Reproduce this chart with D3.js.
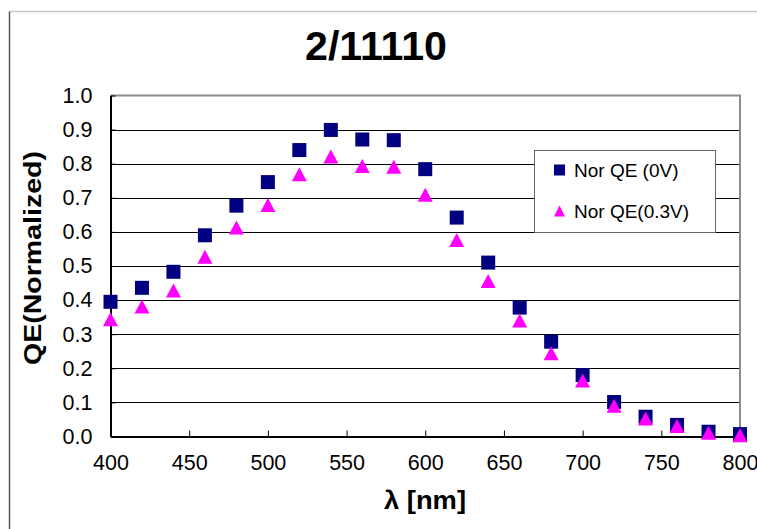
<!DOCTYPE html>
<html>
<head>
<meta charset="utf-8">
<script src="https://cdn.jsdelivr.net/npm/d3@7"></script>
<style>
  body { margin: 0; background: #fff; }
  svg { display: block; font-family: "Liberation Sans", Arial, sans-serif; }
</style>
</head>
<body>
<svg id="chart" width="757" height="529"></svg>
<script>
// data
const wavelengths = [400, 420, 440, 460, 480, 500, 520, 540, 560, 580, 600,
  620, 640, 660, 680, 700, 720, 740, 760, 780, 800];
const qe0V = [0.395, 0.436, 0.483, 0.590, 0.677, 0.746, 0.840, 0.899, 0.871, 0.869, 0.784,
  0.642, 0.510, 0.378, 0.278, 0.180, 0.101, 0.058, 0.034, 0.014, 0.007];
const qe03V = [0.344, 0.381, 0.428, 0.527, 0.613, 0.679, 0.769, 0.821, 0.793, 0.791, 0.709,
  0.576, 0.456, 0.340, 0.244, 0.164, 0.090, 0.053, 0.031, 0.011, 0.004];
const xTicks = [400, 450, 500, 550, 600, 650, 700, 750, 800];
const yTicks = [0, 0.1, 0.2, 0.3, 0.4, 0.5, 0.6, 0.7, 0.8, 0.9, 1.0];
const seriesNames = ['Nor QE (0V)', 'Nor QE(0.3V)'];

const svg = d3.select('#chart');
const plotL = 110.5, plotR = 740, plotT = 95.5, plotB = 436.5;

const x = d3.scaleLinear().domain([400, 800]).range([plotL, plotR]);
const y = d3.scaleLinear().domain([0, 1]).range([plotB, plotT]);

// outer frame (only top + left visible)
svg.append('line').attr('x1', 9.5).attr('x2', 757).attr('y1', 11.5).attr('y2', 11.5)
  .attr('stroke', '#c8c8c8').attr('stroke-width', 1.5);
svg.append('line').attr('x1', 9.5).attr('x2', 9.5).attr('y1', 11.5).attr('y2', 529)
  .attr('stroke', '#555').attr('stroke-width', 1.5);

// title
svg.append('text').attr('x', 376).attr('y', 59.5).attr('text-anchor', 'middle')
  .attr('font-size', 41).attr('font-weight', 'bold')
  .attr('textLength', 142).attr('lengthAdjust', 'spacingAndGlyphs')
  .text('2/11110');

// gridlines
svg.append('g').selectAll('line').data(yTicks.slice(1, -1)).enter().append('line')
  .attr('x1', plotL).attr('x2', plotR)
  .attr('y1', d => Math.round(y(d)) + 0.5).attr('y2', d => Math.round(y(d)) + 0.5)
  .attr('stroke', '#000').attr('stroke-width', 1);

// plot border top/right in grey
svg.append('path')
  .attr('d', `M${plotL},${plotT}H${plotR}V${plotB}`)
  .attr('fill', 'none').attr('stroke', '#8c8c8c').attr('stroke-width', 2);

// axes
const yAxis = d3.axisLeft(y).tickValues(yTicks).tickFormat(d3.format('.1f'))
  .tickSizeInner(-5).tickSizeOuter(0).tickPadding(18);
const gy = svg.append('g').attr('transform', `translate(${plotL},0)`).call(yAxis);
const xAxis = d3.axisBottom(x).tickValues(xTicks).tickFormat(d3.format('d'))
  .tickSizeInner(-6).tickSizeOuter(0).tickPadding(18);
const gx = svg.append('g').attr('transform', `translate(0,${plotB})`).call(xAxis);

[gx, gy].forEach(g => {
  g.select('.domain').attr('stroke', '#000').attr('stroke-width', 2);
  g.selectAll('.tick line').attr('stroke', '#000').attr('stroke-width', 1);
  g.selectAll('.tick text').attr('font-size', 21.5).attr('fill', '#000')
    .attr('font-family', '"Liberation Sans", Arial, sans-serif');
});
gx.selectAll('.tick text').attr('dy', '0.71em');

// axis titles
svg.append('text').attr('x', 425).attr('y', 509).attr('text-anchor', 'middle')
  .attr('font-size', 25).attr('font-weight', 'bold')
  .attr('textLength', 82).attr('lengthAdjust', 'spacingAndGlyphs')
  .text('λ [nm]');
svg.append('text').attr('transform', 'translate(41,258) rotate(-90)')
  .attr('text-anchor', 'middle').attr('font-size', 24).attr('font-weight', 'bold')
  .attr('textLength', 214).attr('lengthAdjust', 'spacingAndGlyphs')
  .text('QE(Normalized)');

// markers
const sq = 14, tw = 15, th = 14;
const triPath = (cx, cy, w, h) =>
  `M${cx},${cy - h / 2}L${cx + w / 2},${cy + h / 2}L${cx - w / 2},${cy + h / 2}Z`;

svg.append('g').selectAll('rect').data(wavelengths).enter().append('rect')
  .attr('x', (d) => x(d) - sq / 2)
  .attr('y', (d, i) => y(qe0V[i]) - sq / 2)
  .attr('width', sq).attr('height', sq)
  .attr('fill', '#000080');

svg.append('g').selectAll('path').data(wavelengths).enter().append('path')
  .attr('d', (d, i) => triPath(x(d), y(qe03V[i]), tw, th))
  .attr('fill', '#ff00ff');

// legend
const lg = svg.append('g');
lg.append('rect').attr('x', 534.5).attr('y', 150.5).attr('width', 181).attr('height', 82)
  .attr('fill', '#fff').attr('stroke', '#666').attr('stroke-width', 1);
lg.append('rect').attr('x', 554).attr('y', 164.5).attr('width', 11).attr('height', 11)
  .attr('fill', '#000080');
lg.append('path').attr('d', triPath(559.5, 211, 11, 11)).attr('fill', '#ff00ff');
lg.selectAll('text').data(seriesNames).enter().append('text')
  .attr('x', 574).attr('y', (d, i) => 177 + i * 40.5)
  .attr('font-size', 19).text(d => d);
</script>
</body>
</html>
